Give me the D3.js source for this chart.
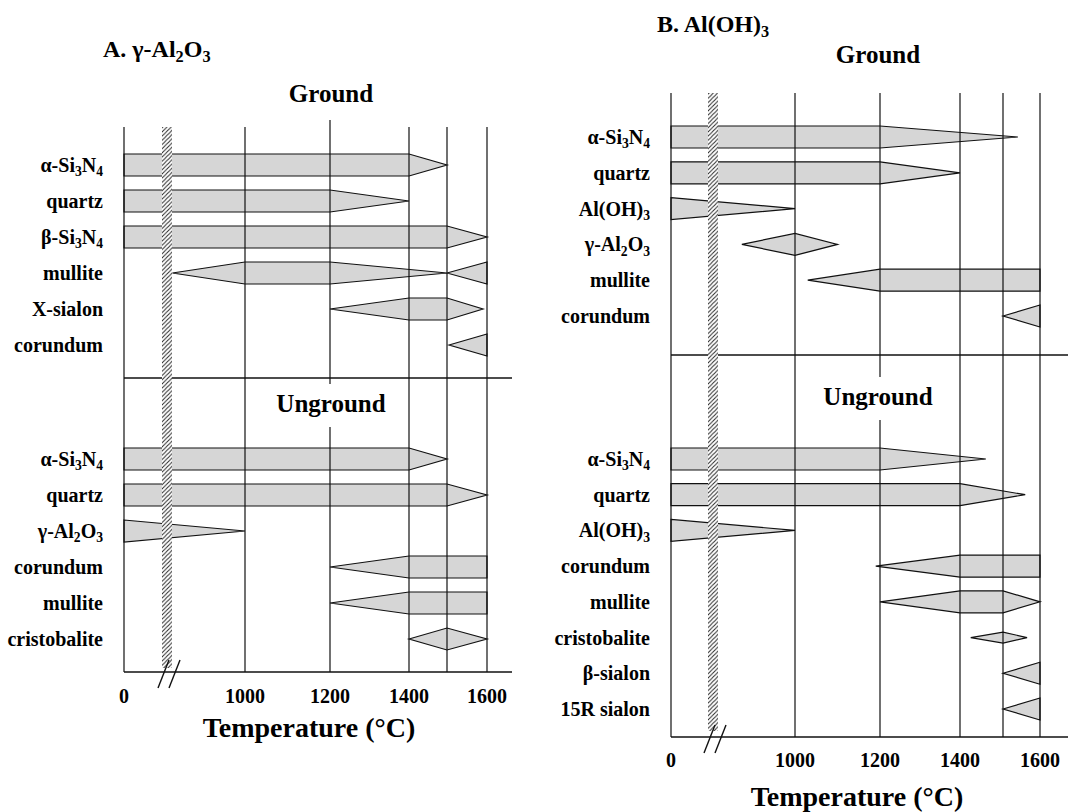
<!DOCTYPE html>
<html><head><meta charset="utf-8">
<script src="https://cdn.jsdelivr.net/npm/d3@7"></script>
<style>body{margin:0;background:#fff}</style>
</head><body>
<svg id="chart" width="1072" height="812"></svg>
<script>
// ---------------- DATA ----------------
// Tick labels on the temperature axis (°C)
const tickLabels = [0, 1000, 1200, 1400, 1600];
// Temperatures at which vertical reference lines are drawn
const gridTemps = [0, 1000, 1200, 1400, 1500, 1600];

// Profiles: [temperature, relative amount (0 = vanishing point, 1 = full band)]
const phasesAGround = ["α-Si_3N_4", "quartz", "β-Si_3N_4", "mullite", "X-sialon", "corundum"];
const profilesAGround = [
  [[0, 1], [1400, 1], [1500, 0]],
  [[0, 1], [1200, 1], [1400, 0]],
  [[0, 1], [1500, 1], [1600, 0]],
  [[825, 0], [1000, 1], [1200, 1], [1500, 0], [1600, 1]],
  [[1200, 0], [1400, 1], [1500, 1], [1590, 0]],
  [[1505, 0], [1600, 1]]
];

const phasesAUnground = ["α-Si_3N_4", "quartz", "γ-Al_2O_3", "corundum", "mullite", "cristobalite"];
const profilesAUnground = [
  [[0, 1], [1400, 1], [1500, 0]],
  [[0, 1], [1500, 1], [1600, 0]],
  [[0, 1], [1000, 0]],
  [[1200, 0], [1400, 1], [1600, 1]],
  [[1200, 0], [1400, 1], [1600, 1]],
  [[1400, 0], [1500, 1], [1600, 0]]
];

const phasesBGround = ["α-Si_3N_4", "quartz", "Al(OH)_3", "γ-Al_2O_3", "mullite", "corundum"];
const profilesBGround = [
  [[0, 1], [1200, 1], [1540, 0]],
  [[0, 1], [1200, 1], [1400, 0]],
  [[0, 1], [1000, 0]],
  [[875, 0], [1000, 1], [1100, 0]],
  [[1030, 0], [1200, 1], [1600, 1]],
  [[1500, 0], [1600, 1]]
];

const phasesBUnground = ["α-Si_3N_4", "quartz", "Al(OH)_3", "corundum", "mullite", "cristobalite", "β-sialon", "15R sialon"];
const profilesBUnground = [
  [[0, 1], [1200, 1], [1460, 0]],
  [[0, 1], [1400, 1], [1560, 0]],
  [[0, 1], [1000, 0]],
  [[1190, 0], [1400, 1], [1600, 1]],
  [[1200, 0], [1400, 1], [1500, 1], [1600, 0]],
  [[1425, 0], [1500, 0.5], [1565, 0]],
  [[1500, 0], [1600, 1]],
  [[1500, 0], [1600, 1]]
];

// ---------------- LAYOUT ----------------
const FONT = "'Liberation Serif', 'Times New Roman', serif";
const scaleBreaks = [0, 800, 1000, 1200, 1400, 1500, 1600]; // broken axis: 0..800 compressed
const BAR_H = 22;

const panels = [
  {
    title: "A. γ-Al_2O_3", titleX: 103, titleY: 57,
    xRange: [124, 162, 245, 330, 409, 447, 487],
    lineTop: 127, lineTopSpecial: {1200: 120},
    axisY: 672, axisX2: 512, dividerY: 378,
    labelX: 103,
    groundTitleY: 102, ungroundTitleY: 412, sectionTitleX: 331,
    ground: {phases: phasesAGround, profiles: profilesAGround, y: [165, 345]},
    unground: {phases: phasesAUnground, profiles: profilesAUnground, y: [459, 639]},
    tickY: 703, axisTitleX: 309, axisTitleY: 737,
    hatchX: 162, hatchTop: 127, hatchBottom: 668
  },
  {
    title: "B. Al(OH)_3", titleX: 657, titleY: 32,
    xRange: [671, 710, 795, 880, 960, 1003, 1040],
    lineTop: 93, lineTopSpecial: {},
    axisY: 737, axisX2: 1068, dividerY: 355,
    labelX: 650,
    groundTitleY: 63, ungroundTitleY: 405, sectionTitleX: 878,
    ground: {phases: phasesBGround, profiles: profilesBGround, y: [137, 316]},
    unground: {phases: phasesBUnground, profiles: profilesBUnground, y: [459, 709]},
    tickY: 767, axisTitleX: 857, axisTitleY: 806,
    hatchX: 708, hatchTop: 93, hatchBottom: 731
  }
];

const svg = d3.select("#chart");
const defs = svg.append("defs");
const HP = 4.2;
const pat = defs.append("pattern").attr("id", "hatch")
  .attr("patternUnits", "userSpaceOnUse").attr("width", HP).attr("height", HP);
pat.append("rect").attr("width", HP).attr("height", HP).attr("fill", "#fff");
pat.append("path").attr("d", `M${-HP/4},${HP/4} L${HP/4},${-HP/4} M0,${HP} L${HP},0 M${HP*0.75},${HP*1.25} L${HP*1.25},${HP*0.75}`)
  .attr("stroke", "#222").attr("stroke-width", 1.0);

// text with "_d" subscripts
function richText(sel, str, fs) {
  const parts = [];
  let i = 0;
  while (i < str.length) {
    if (str[i] === "_") { parts.push({t: str[i + 1], sub: true}); i += 2; }
    else {
      let j = i;
      while (j < str.length && str[j] !== "_") j++;
      parts.push({t: str.slice(i, j), sub: false}); i = j;
    }
  }
  let shifted = false;
  parts.forEach(p => {
    const ts = sel.append("tspan").text(p.t);
    if (p.sub) {
      ts.attr("font-size", fs * 0.68).attr("dy", shifted ? 0 : fs * 0.22);
      shifted = true;
    } else {
      ts.attr("font-size", fs).attr("dy", shifted ? -fs * 0.22 : 0);
      shifted = false;
    }
  });
  return sel;
}

const line = d3.line();

panels.forEach(P => {
  const g = svg.append("g");
  const x = d3.scaleLinear().domain(scaleBreaks).range(P.xRange);

  // bars
  [P.ground, P.unground].forEach(sec => {
    const y = d3.scalePoint().domain(d3.range(sec.phases.length)).range(sec.y);
    sec.profiles.forEach((prof, i) => {
      const yc = y(i);
      const top = prof.map(([t, w]) => [x(t), yc - w * BAR_H / 2]);
      const bot = prof.slice().reverse().map(([t, w]) => [x(t), yc + w * BAR_H / 2]);
      g.append("path").attr("d", line(top.concat(bot)) + "Z")
        .attr("fill", "#d6d6d6").attr("stroke", "#111").attr("stroke-width", 1.2)
        .attr("stroke-linejoin", "miter");
    });
    sec.phases.forEach((ph, i) => {
      const t = g.append("text").attr("x", P.labelX).attr("y", y(i) + 7)
        .attr("text-anchor", "end").attr("font-family", FONT).attr("font-weight", "bold");
      richText(t, ph, 20);
    });
  });

  // vertical reference lines
  g.selectAll(".vline").data(gridTemps).enter().append("line")
    .attr("x1", d => x(d)).attr("x2", d => x(d))
    .attr("y1", d => P.lineTopSpecial[d] !== undefined ? P.lineTopSpecial[d] : P.lineTop)
    .attr("y2", P.axisY)
    .attr("stroke", "#111").attr("stroke-width", 1.2);

  // divider and axis
  g.append("line").attr("x1", x(0)).attr("x2", P.axisX2).attr("y1", P.dividerY).attr("y2", P.dividerY)
    .attr("stroke", "#111").attr("stroke-width", 1.3);
  g.append("line").attr("x1", x(0)).attr("x2", P.axisX2).attr("y1", P.axisY).attr("y2", P.axisY)
    .attr("stroke", "#111").attr("stroke-width", 1.6);

  // section titles
  g.append("text").attr("x", P.sectionTitleX).attr("y", P.groundTitleY).attr("text-anchor", "middle")
    .attr("font-family", FONT).attr("font-weight", "bold").attr("font-size", 25).text("Ground");
  const ug = g.append("text").attr("x", P.sectionTitleX).attr("y", P.ungroundTitleY).attr("text-anchor", "middle")
    .attr("font-family", FONT).attr("font-weight", "bold").attr("font-size", 25).text("Unground");
  const bb = ug.node().getBBox();
  g.insert("rect", () => ug.node()).attr("x", bb.x - 2).attr("y", bb.y - 6)
    .attr("width", bb.width + 4).attr("height", bb.height + 16).attr("fill", "#fff");

  // hatched break band
  g.append("rect").attr("x", P.hatchX).attr("y", P.hatchTop).attr("width", 10)
    .attr("height", P.hatchBottom - P.hatchTop).attr("fill", "url(#hatch)");

  // break marks on axis
  const bc = P.hatchX + 5;
  [-3.5, 7.5].forEach(dx => {
    g.append("line").attr("x1", bc + dx - 5.5).attr("y1", P.axisY + 16)
      .attr("x2", bc + dx + 5.5).attr("y2", P.axisY - 12)
      .attr("stroke", "#111").attr("stroke-width", 1.4);
  });

  // tick labels
  g.selectAll(".tick").data(tickLabels).enter().append("text")
    .attr("x", d => x(d)).attr("y", P.tickY).attr("text-anchor", "middle")
    .attr("font-family", FONT).attr("font-weight", "bold").attr("font-size", 20)
    .text(d => d);

  // axis title
  g.append("text").attr("x", P.axisTitleX).attr("y", P.axisTitleY).attr("text-anchor", "middle")
    .attr("font-family", FONT).attr("font-weight", "bold").attr("font-size", 28)
    .text("Temperature (°C)");

  // panel title
  const tt = g.append("text").attr("x", P.titleX).attr("y", P.titleY)
    .attr("font-family", FONT).attr("font-weight", "bold");
  richText(tt, P.title, 24);
});
</script>
</body></html>
